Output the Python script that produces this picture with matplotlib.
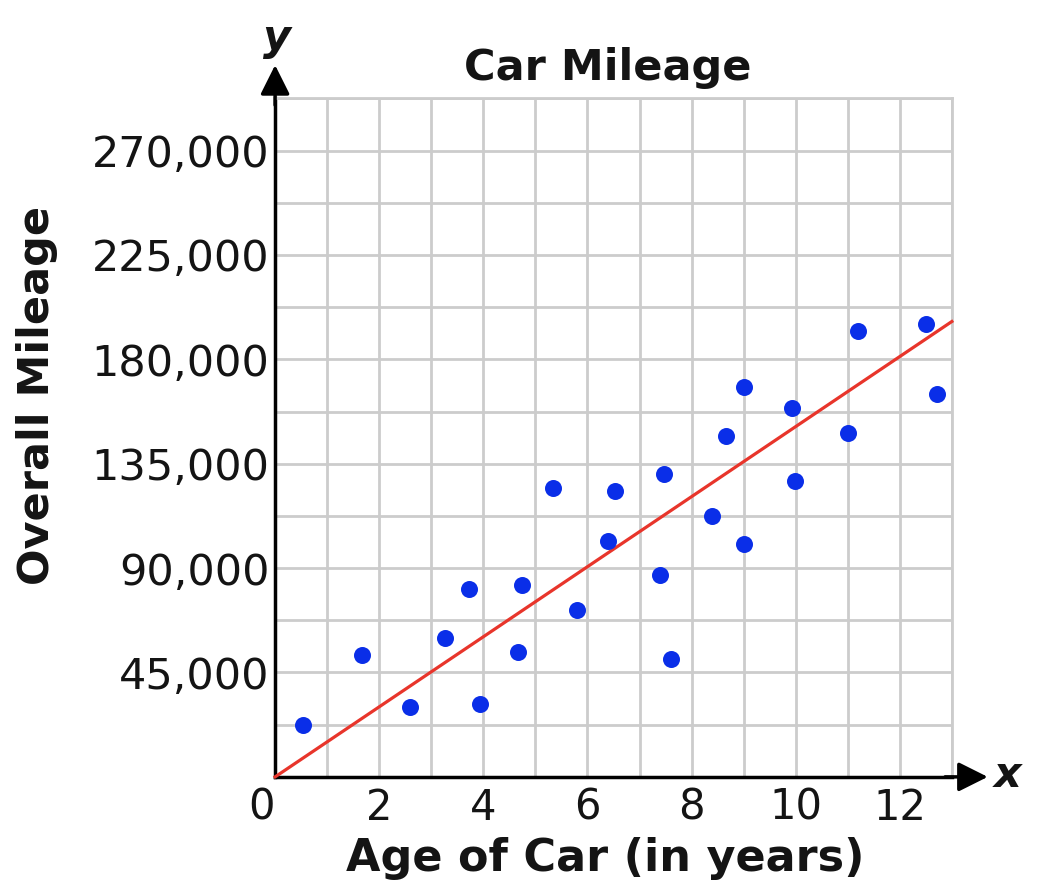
import numpy as np
import matplotlib
matplotlib.use("Agg")
import matplotlib.pyplot as plt

# data
age = [0.54, 1.67, 2.59, 3.26, 3.72, 3.93, 4.74, 4.66, 5.34, 5.80, 6.40, 6.53,
       7.39, 7.47, 7.60, 8.39, 8.66, 9.00, 9.00, 9.92, 9.98, 11.0, 11.19, 12.51, 12.71]
mileage = [22400, 52600, 30200, 60000, 81100, 31500, 82800, 53900, 124700, 72000,
           101800, 123400, 87100, 130700, 50900, 112600, 147100, 168200, 100500,
           159200, 127700, 148400, 192400, 195400, 165200]
trend_slope = 15100  # miles per year, line through origin

x_ticks = [0, 2, 4, 6, 8, 10, 12]
y_ticks = [45000, 90000, 135000, 180000, 225000, 270000]
x_max = 13
y_max = 292500

plt.rcParams["font.family"] = ["DejaVu Sans"]
text_col = "#141414"

fig = plt.figure(figsize=(10.46, 8.94), dpi=100)
ax = fig.add_axes([0.263, 0.131, 0.647, 0.759])

ax.set_xlim(0, x_max)
ax.set_ylim(0, y_max)

ax.set_xticks(x_ticks)
ax.set_xticks(np.arange(0, x_max + 1, 1), minor=True)
ax.set_yticks(y_ticks)
ax.set_yticks(np.arange(0, y_max + 1, 22500), minor=True)
ax.set_yticklabels([f"{v:,}" for v in y_ticks])
ax.grid(True, which="both", color="#cccccc", lw=2.0, zorder=0)
ax.set_axisbelow(True)

ax.tick_params(which="both", length=0)
ax.tick_params(axis="y", labelsize=31, pad=4, labelcolor=text_col)
ax.tick_params(axis="x", labelsize=30, pad=7, labelcolor=text_col)
ax.get_xticklabels()[0].set_horizontalalignment("right")

for s in ["left", "bottom"]:
    ax.spines[s].set_linewidth(2.5)
    ax.spines[s].set_color("black")
for s in ["top", "right"]:
    ax.spines[s].set_linewidth(2.0)
    ax.spines[s].set_color("#cccccc")

# trend line
line_x = np.array([0, x_max])
ax.plot(line_x, trend_slope * line_x, color="#e8352b", lw=2.3, zorder=3,
        clip_on=False)

ax.scatter(age, mileage, s=150, color="#0a2ee8", zorder=4, linewidths=0)

# axis arrows
head = "-|>,head_length=1.8,head_width=0.9"
ax.annotate("", xy=(0, 1.049), xytext=(0, 0.99), xycoords="axes fraction",
            arrowprops=dict(arrowstyle=head, color="black", lw=2.5,
                            shrinkA=0, shrinkB=0))
ax.annotate("", xy=(1.053, 0), xytext=(0.99, 0), xycoords="axes fraction",
            arrowprops=dict(arrowstyle=head, color="black", lw=2.5,
                            shrinkA=0, shrinkB=0))
fig.text(277 / 1046, 1 - 38 / 894, "y", fontsize=31, fontweight="bold",
         style="italic", ha="center", va="center", color=text_col)
fig.text(1008 / 1046, 1 - 775 / 894, "x", fontsize=31, fontweight="bold",
         style="italic", ha="center", va="center", color=text_col)

fig.text(608 / 1046, 1 - 68 / 894, "Car Mileage", fontsize=31,
         fontweight="bold", ha="center", va="center", color=text_col)
fig.text(605 / 1046, 1 - 858 / 894, "Age of Car (in years)", fontsize=32,
         fontweight="bold", ha="center", va="center", color=text_col)
fig.text(37 / 1046, 1 - 395 / 894, "Overall Mileage", fontsize=31,
         fontweight="bold", ha="center", va="center", rotation=90,
         color=text_col)

fig.savefig("out.png", dpi=100)
